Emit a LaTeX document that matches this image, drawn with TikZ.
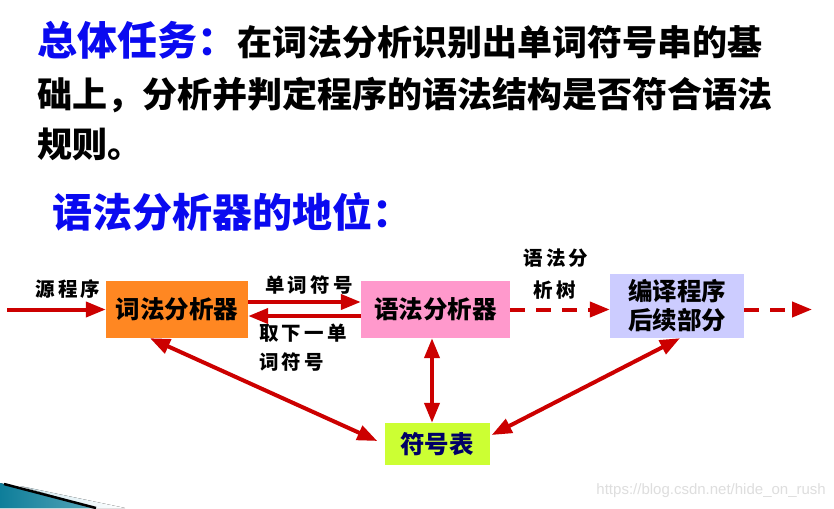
\documentclass[tikz,border=0pt]{standalone}
\usepackage{fontspec}
\setmainfont{Noto Sans CJK SC}
\newfontfamily\lblfont[LetterSpace=16]{Noto Sans CJK SC}
\newfontfamily\wmfont{Liberation Sans}
\usetikzlibrary{arrows.meta}
\definecolor{tblue}{HTML}{0A0AF0}
\definecolor{ared}{HTML}{CC0000}
\definecolor{borange}{HTML}{FF8722}
\definecolor{bpink}{HTML}{FF99CC}
\definecolor{blav}{HTML}{CCCCFF}
\definecolor{blime}{HTML}{CCFF33}
\definecolor{navy}{HTML}{000066}
\definecolor{teal1}{HTML}{0E7E9A}
\definecolor{teal2}{HTML}{CDE6EE}
\tikzset{
  box/.style={inner sep=0pt, font=\fontsize{24.5}{29}\selectfont\bfseries, align=center},
  lbl/.style={inner sep=0pt, font=\fontsize{19.5}{19.5}\selectfont\bfseries\lblfont},
  con/.style={draw=ared, line width=4pt, -{Triangle[length=20pt,width=15pt]}},
  bicon/.style={draw=ared, line width=4pt, {Triangle[length=20pt,width=15pt]}-{Triangle[length=20pt,width=15pt]}},
  dcon/.style={con, dash pattern=on 15pt off 11pt},
  txt/.style={inner sep=0pt, anchor=west}
}
\begin{document}
\begin{tikzpicture}[x=1pt,y=-1pt]
\useasboundingbox[fill=white] (0,0) rectangle (834,508);

% titles
\node[txt] (t1) at (37,40) {{\fontsize{40}{40}\selectfont\bfseries\color{tblue}总体任务：}\fontsize{35}{35}\selectfont\bfseries 在词法分析识别出单词符号串的基};
\node[txt] (t2) at (37,95) {\fontsize{35}{35}\selectfont\bfseries 础上，分析并判定程序的语法结构是否符合语法};
\node[txt] (t3) at (37,144) {\fontsize{35}{35}\selectfont\bfseries 规则。};
\node[txt] (t4) at (52,212) {\fontsize{40}{40}\selectfont\bfseries\color{tblue}语法分析器的地位：};

% boxes
\node[box, fill=borange, minimum width=142pt, minimum height=57pt] (lex) at (177,309.5) {词法分析器};
\node[box, fill=bpink, minimum width=149pt, minimum height=57pt] (syn) at (435.5,309.5) {语法分析器};
\node[box, fill=blav, minimum width=134pt, minimum height=64pt] (rest) at (677,306) {编译程序\\后续部分};
\node[box, fill=blime, minimum width=105pt, minimum height=42pt, text=navy] (tab) at (437,444) {符号表};

% connectors
\coordinate (src) at (7,309.5);
\coordinate (out) at (812,309.5);
\draw[con] (src) -- (lex.west);
\draw[con] ([yshift=7.5pt]lex.east) -- ([yshift=7.5pt]syn.west);
\draw[con] ([yshift=-6.5pt]syn.west) -- ([yshift=-6.5pt]lex.east);
\draw[dcon] (syn.east) -- (syn.east -| rest.west);
\draw[dcon] (rest.east |- out) -- (out);
\draw[bicon] ([xshift=-27pt]lex.south) -- ([xshift=-7pt,yshift=3pt]tab.west);
\draw[bicon] ([xshift=-3.5pt]syn.south) -- ([xshift=-5pt]tab.north);
\draw[bicon] ([xshift=3pt]rest.south) -- ([xshift=2pt,yshift=9pt]tab.east);

% labels
\node[lbl] (l1) at (68,289) {源程序};
\node[lbl] (l2) at (309,285) {单词符号};
\node[lbl, anchor=west] (l3) at (259,333) {取下一单};
\node[lbl, anchor=west] (l4) at (259,362) {词符号};
\node[lbl] (l5) at (556,258) {语法分};
\node[lbl] (l6) at (555,290) {析树};

% decoration bottom-left
\fill[left color=teal1, right color=teal1!70!white] (0,483) -- (96,508) -- (0,508) -- cycle;
\fill[left color=teal2, right color=white] (20,486) -- (125,508) -- (96,508) -- cycle;
\draw[black, line width=2.5pt] (4,484) -- (96,508);

% watermark
\node[inner sep=0pt, anchor=east, text=black!13, font=\fontsize{15}{15}\selectfont\wmfont] (wm) at (826,491) {https://blog.csdn.net/hide\_on\_rush};
\end{tikzpicture}
\end{document}
